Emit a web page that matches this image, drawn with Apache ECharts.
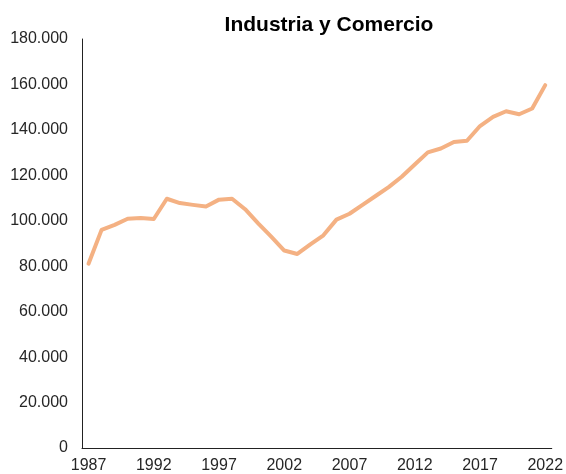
<!DOCTYPE html>
<html>
<head>
<meta charset="utf-8">
<script src="https://cdn.jsdelivr.net/npm/echarts@6/dist/echarts.min.js"></script>
<style>
  html, body { margin: 0; padding: 0; background: #fff; }
  #chart { width: 566px; height: 474px; }
</style>
</head>
<body>
<div id="chart"></div>
<script>
// years 1987..2022
let years = ['1987', '1988', '1989', '1990', '1991', '1992', '1993', '1994', '1995', '1996',
  '1997', '1998', '1999', '2000', '2001', '2002', '2003', '2004', '2005', '2006',
  '2007', '2008', '2009', '2010', '2011', '2012', '2013', '2014', '2015', '2016',
  '2017', '2018', '2019', '2020', '2021', '2022'];

// valores
let valores = [81100, 96000, 98200, 100900, 101200, 100800, 109700, 107800, 107000, 106300,
  109300, 109700, 105100, 98900, 93000, 86900, 85400, 89600, 93600, 100500,
  103100, 107000, 110900, 114800, 119400, 124800, 130100, 131800, 134700, 135200,
  141700, 145700, 148200, 146900, 149400, 159700];

let chart = echarts.init(document.getElementById('chart'));

// separador de miles con punto
function miles (v) {
  return String(v).replace(/\B(?=(\d{3})+(?!\d))/g, '.');
}

chart.setOption({
  backgroundColor: '#ffffff',
  animation: false,
  title: {
    text: 'Industria y Comercio',
    left: 324,
    top: 10,
    textAlign: 'center',
    textStyle: {
      fontFamily: 'Liberation Sans',
      fontWeight: 'bold',
      fontSize: 21,
      color: '#000'
    }
  },
  grid: {
    left: 82,
    right: 11,
    top: 39,
    bottom: 25,
    containLabel: false
  },
  xAxis: {
    type: 'category',
    boundaryGap: true,
    data: years,
    axisLine: { lineStyle: { color: '#222', width: 1 } },
    axisTick: { show: false },
    axisLabel: {
      interval: 4,
      margin: 10,
      color: '#262626',
      fontFamily: 'Liberation Sans',
      fontSize: 16
    },
    splitLine: { show: false }
  },
  yAxis: {
    type: 'value',
    min: 0,
    max: 180000,
    interval: 20000,
    axisLine: { show: true, lineStyle: { color: '#222', width: 1 } },
    axisTick: { show: false },
    splitLine: { show: false },
    axisLabel: {
      margin: 14,
      color: '#262626',
      fontFamily: 'Liberation Sans',
      fontSize: 16,
      formatter: miles
    }
  },
  series: [
    {
      type: 'line',
      name: 'Industria y Comercio',
      data: valores,
      symbol: 'none',
      lineStyle: { color: '#F4B183', width: 4, cap: 'round', join: 'round' }
    }
  ]
});
</script>
</body>
</html>
